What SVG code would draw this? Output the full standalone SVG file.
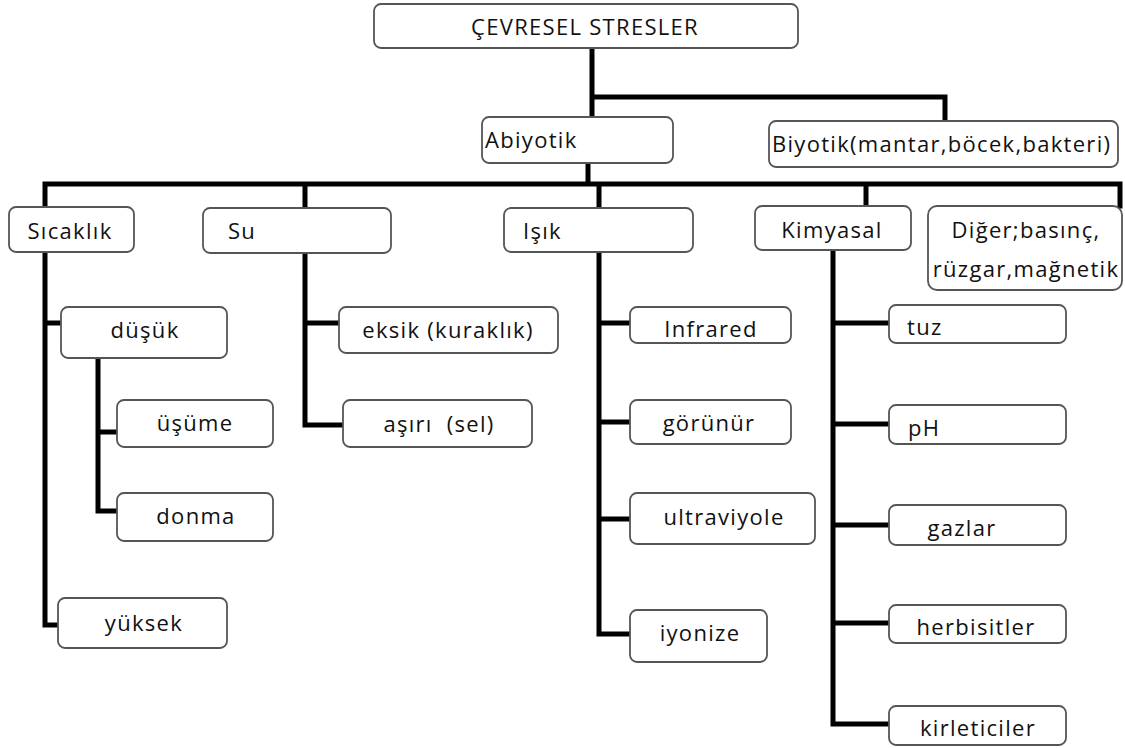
<svg xmlns="http://www.w3.org/2000/svg" width="1125" height="748" viewBox="0 0 1125 748">
<style>
.box{fill:#fff;stroke:#555;stroke-width:1.8}
.t{font-family:"Open Sans","Liberation Sans",sans-serif;font-size:22px;fill:#111;letter-spacing:1.3px}
.c{text-anchor:middle}
.conn{fill:none;stroke:#000;stroke-width:5;stroke-linejoin:miter;stroke-linecap:square}
</style>
<rect width="1125" height="748" fill="#fff"/>
<g id="connectors">
<path class="conn" d="M592 48V117M592 97H945V121"/>
<path class="conn" d="M588 163V184M45 207V184H1120V206M305 184V208M599 184V208M866 184V206"/>
<path class="conn" d="M45 252V625H58M45 323H61"/>
<path class="conn" d="M98 358V511H117M98 432H117"/>
<path class="conn" d="M305 253V425H343M305 323H339"/>
<path class="conn" d="M599 252V634H630M599 323H630M599 422H630M599 519H630"/>
<path class="conn" d="M833 250V724H889M833 323H889M833 424H889M833 525H889M833 623H889"/>
</g>
<g id="cevresel"><rect class="box" x="374" y="4" width="424" height="44" rx="7"/><text class="t c" x="585" y="35">ÇEVRESEL STRESLER</text></g>
<g id="abiyotik"><rect class="box" x="482" y="117" width="191" height="46" rx="7"/><text class="t" x="485" y="148">Abiyotik</text></g>
<g id="biyotik"><rect class="box" x="769" y="121" width="349" height="46" rx="7"/><text class="t" x="772" y="152">Biyotik(mantar,böcek,bakteri)</text></g>
<g id="sicaklik"><rect class="box" x="9" y="207" width="125" height="45" rx="7"/><text class="t c" x="70" y="239">Sıcaklık</text></g>
<g id="su"><rect class="box" x="203" y="208" width="188" height="45" rx="7"/><text class="t" x="228" y="239">Su</text></g>
<g id="isik"><rect class="box" x="504" y="208" width="189" height="44" rx="7"/><text class="t" x="523" y="239">Işık</text></g>
<g id="kimyasal"><rect class="box" x="755" y="206" width="156" height="44" rx="7"/><text class="t c" x="832" y="238">Kimyasal</text></g>
<g id="diger"><rect class="box" x="928" y="206" width="194" height="84" rx="9"/><text class="t c" x="1026" y="238">Diğer;basınç,</text><text class="t c" x="1026" y="277">rüzgar,mağnetik</text></g>
<g id="dusuk"><rect class="box" x="61" y="307" width="166" height="51" rx="7"/><text class="t c" x="145" y="338">düşük</text></g>
<g id="usume"><rect class="box" x="117" y="400" width="156" height="47" rx="7"/><text class="t c" x="195" y="431">üşüme</text></g>
<g id="donma"><rect class="box" x="117" y="493" width="156" height="48" rx="7"/><text class="t c" x="196" y="524">donma</text></g>
<g id="yuksek"><rect class="box" x="58" y="598" width="169" height="50" rx="7"/><text class="t c" x="144" y="631">yüksek</text></g>
<g id="eksik"><rect class="box" x="339" y="307" width="219" height="46" rx="7"/><text class="t c" x="448" y="338">eksik (kuraklık)</text></g>
<g id="asiri"><rect class="box" x="343" y="400" width="189" height="47" rx="7"/><text class="t c" x="439" y="432" xml:space="preserve">aşırı  (sel)</text></g>
<g id="infrared"><rect class="box" x="630" y="307" width="161" height="36" rx="7"/><text class="t c" x="711" y="337">Infrared</text></g>
<g id="gorunur"><rect class="box" x="630" y="400" width="161" height="44" rx="7"/><text class="t c" x="709" y="431">görünür</text></g>
<g id="ultraviyole"><rect class="box" x="630" y="493" width="185" height="51" rx="7"/><text class="t c" x="724" y="525">ultraviyole</text></g>
<g id="iyonize"><rect class="box" x="630" y="610" width="137" height="52" rx="7"/><text class="t c" x="700" y="641">iyonize</text></g>
<g id="tuz"><rect class="box" x="889" y="305" width="177" height="38" rx="7"/><text class="t" x="907" y="335">tuz</text></g>
<g id="ph"><rect class="box" x="889" y="405" width="177" height="39" rx="7"/><text class="t" x="908" y="436">pH</text></g>
<g id="gazlar"><rect class="box" x="889" y="505" width="177" height="40" rx="7"/><text class="t c" x="962" y="536">gazlar</text></g>
<g id="herbisitler"><rect class="box" x="889" y="605" width="177" height="38" rx="7"/><text class="t c" x="976" y="635">herbisitler</text></g>
<g id="kirleticiler"><rect class="box" x="889" y="706" width="177" height="39" rx="7"/><text class="t c" x="978" y="736">kirleticiler</text></g>
</svg>
